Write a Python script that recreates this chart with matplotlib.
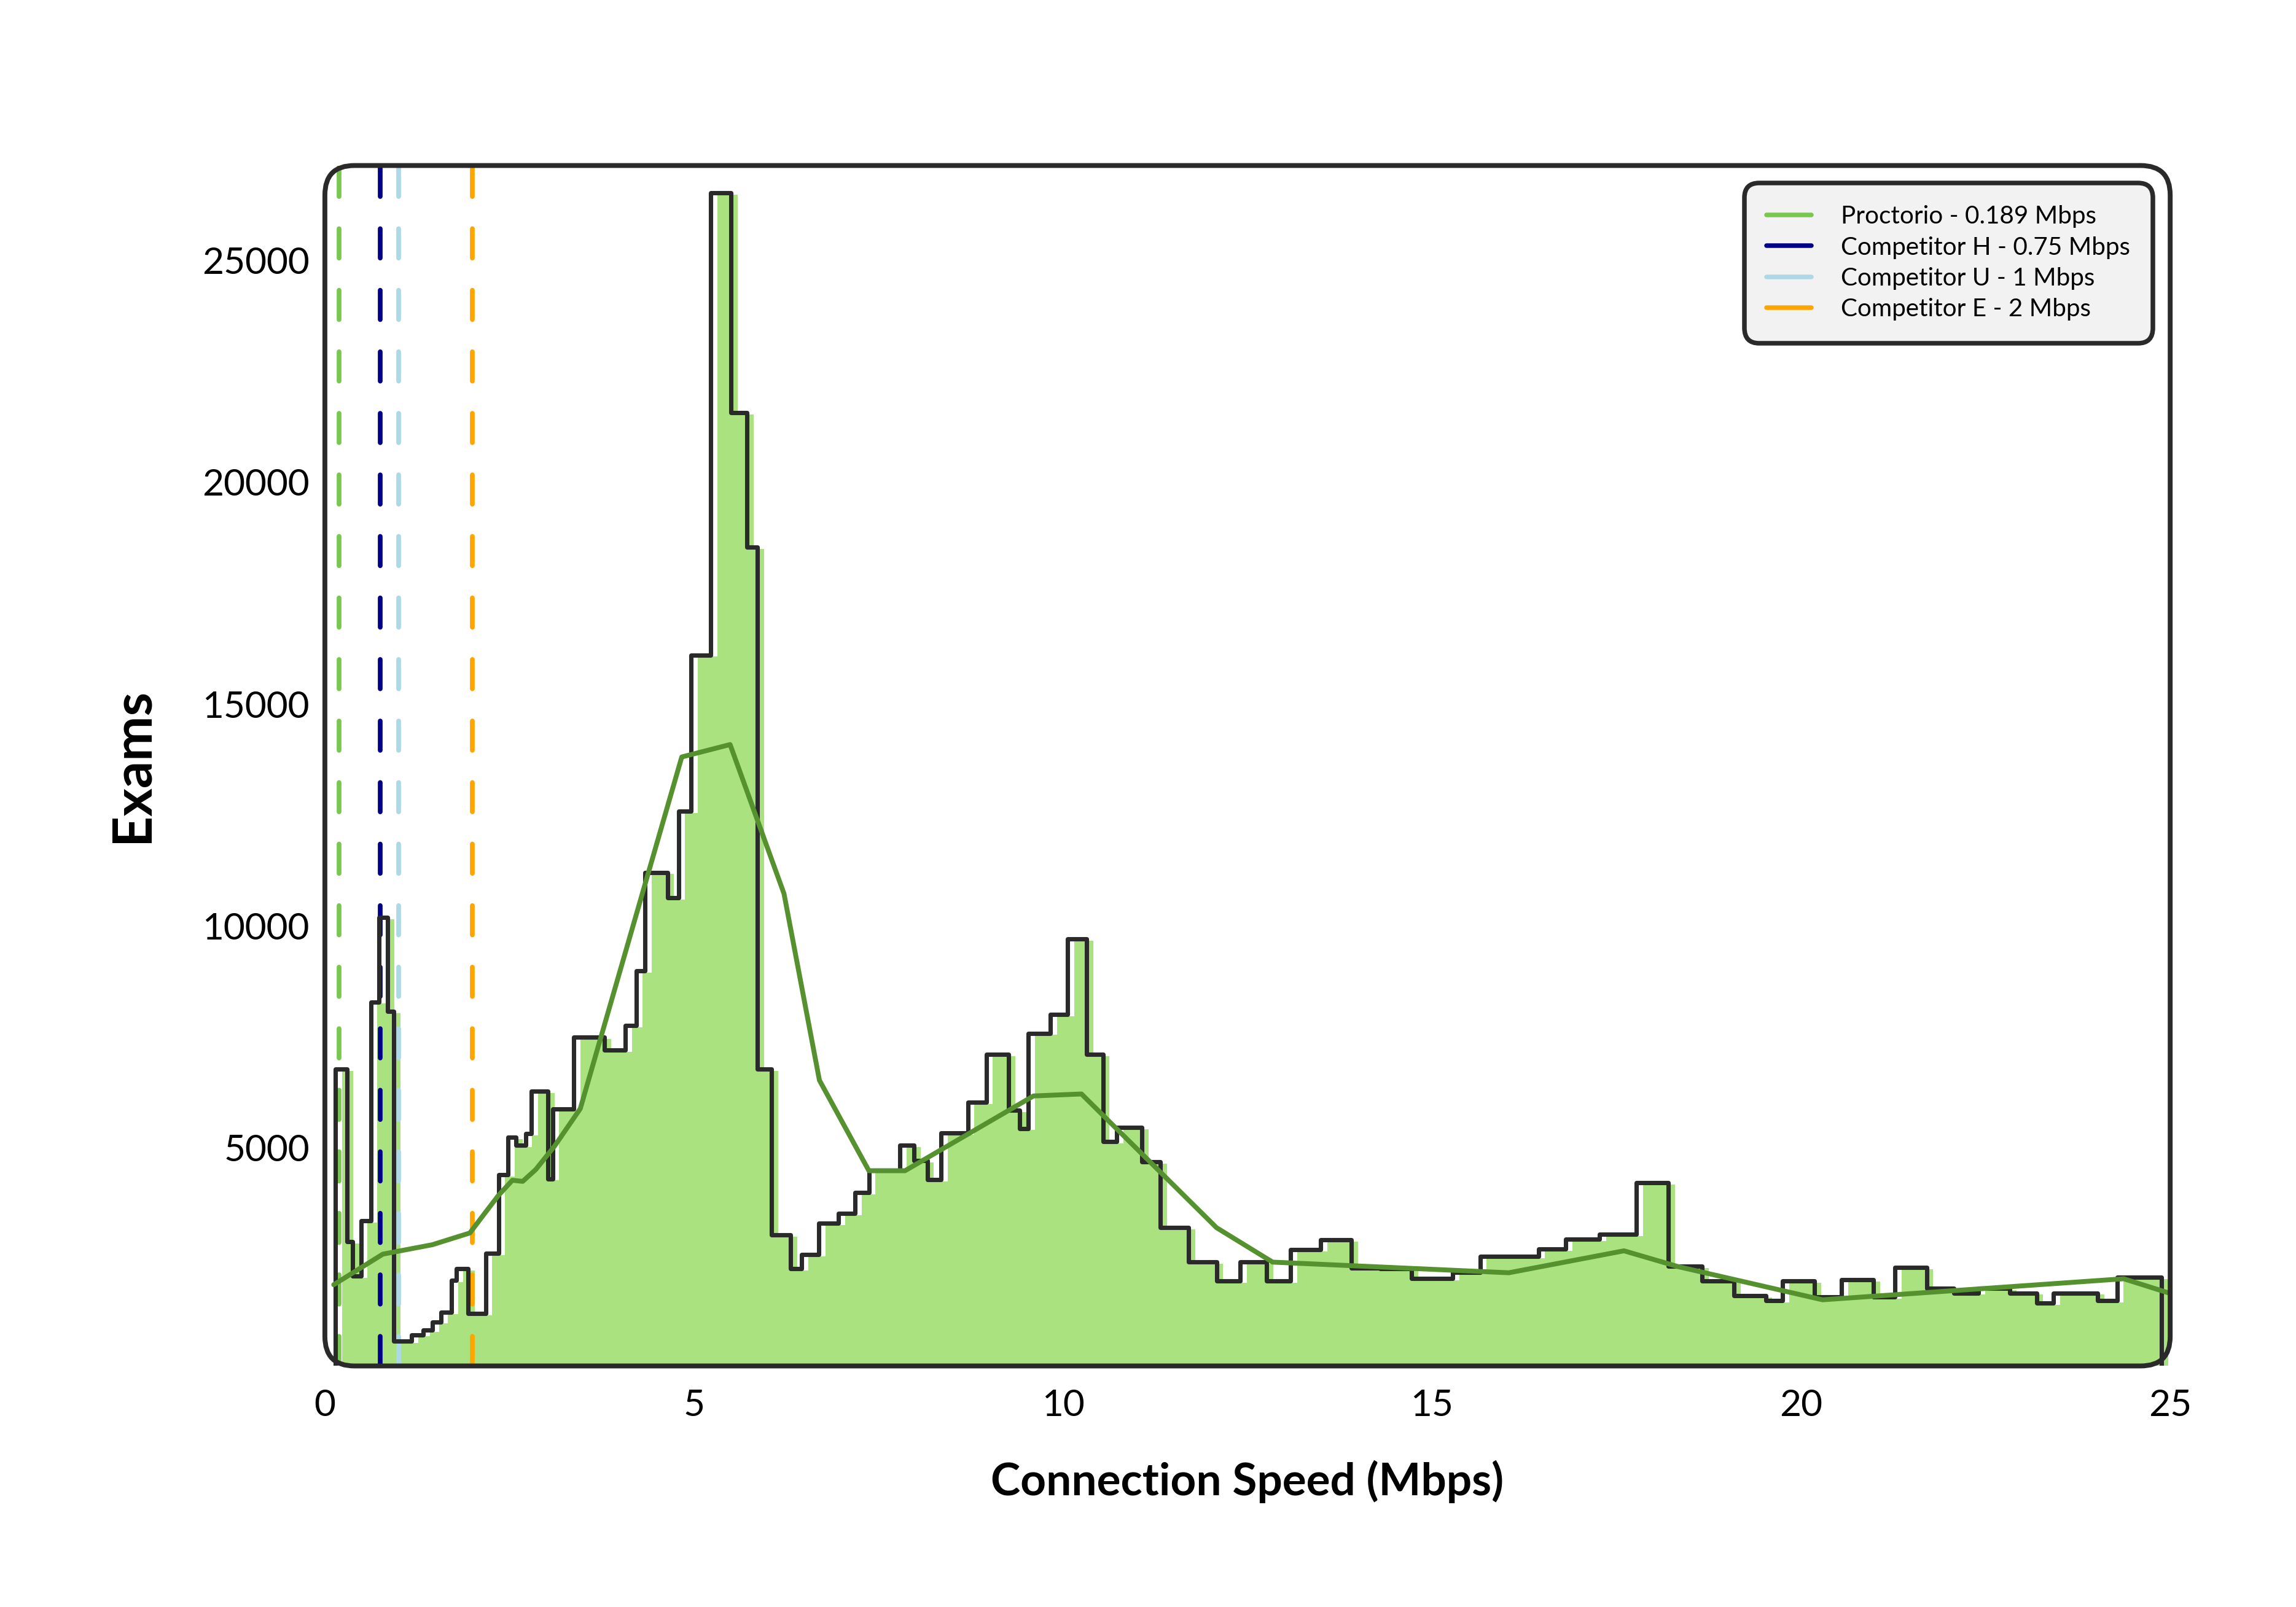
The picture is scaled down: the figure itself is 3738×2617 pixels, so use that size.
import numpy as np
import matplotlib
matplotlib.use("Agg")
import matplotlib.pyplot as plt
from matplotlib.patches import FancyBboxPatch

plt.rcParams['font.family'] = ['Lato', 'DejaVu Sans']

# histogram of exam connection speeds (bin edges in Mbps, counts per bin)
bin_edges = [0.234, 0.387, 0.467, 0.578, 0.712, 0.821, 0.938, 1.024, 1.263, 1.423,
             1.55, 1.662, 1.805, 1.869, 2.028, 2.267, 2.442, 2.57, 2.681, 2.809,
             2.888, 3.112, 3.175, 3.462, 3.876, 4.163, 4.306, 4.43, 4.73, 4.88,
             5.05, 5.32, 5.59, 5.81, 5.95, 6.14, 6.40, 6.55, 6.78, 7.05,
             7.27, 7.46, 7.88, 8.07, 8.25, 8.44, 8.80, 9.05, 9.35, 9.50,
             9.62, 9.92, 10.15, 10.41, 10.63, 10.82, 11.16, 11.41, 11.79, 12.17,
             12.49, 12.85, 13.17, 13.58, 14.0, 14.39, 14.81, 15.37, 15.74, 16.53,
             16.9, 17.36, 17.86, 18.29, 18.75, 19.18, 19.61, 19.84, 20.27, 20.64,
             21.07, 21.36, 21.79, 22.16, 22.49, 22.92, 23.28, 23.51, 24.11, 24.37,
             24.97]
exam_counts = [6740, 2840, 2075, 3320, 8250, 10150, 8030, 600, 750,
               850, 1040, 1250, 1970, 2234, 1227, 2578, 4350, 5200, 5014,
               5280, 6233, 4265, 5835, 7450, 7160, 7716, 8950, 11170, 10600,
               12550, 16070, 26480, 21525, 18500, 6740, 3000, 2234, 2551, 3266,
               3478, 3955, 4458, 5014, 4670, 4250, 5300, 5990, 7072, 5810,
               5400, 7545, 7968, 9663, 7072, 5100, 5426, 4649, 3166, 2389,
               1966, 2389, 1966, 2672, 2884, 2248, 2240, 2018, 2150, 2515,
               2680, 2901, 3012, 4170, 2295, 1963, 1632, 1521, 1963, 1600,
               1990, 1600, 2260, 1800, 1690, 1800, 1690, 1466, 1690, 1521,
               2040]

# smoothed trend line
trend_x = [0.12, 0.785, 1.455, 1.964, 2.156, 2.35, 2.54, 2.68, 2.856, 3.11,
           3.46, 4.835, 5.49, 6.22, 6.70, 7.37, 7.86, 9.60, 10.25, 12.08,
           12.84, 16.04, 17.6, 18.33, 20.29, 24.37, 25.0]
trend_y = [1916, 2605, 2817, 3082, 3504, 3926, 4270, 4245, 4510, 5036,
           5883, 13810, 14090, 10730, 6524, 4485, 4485, 6170, 6215, 3201,
           2425, 2185, 2680, 2325, 1576, 2050, 1720]

# minimum required speeds
vendor_labels = ['Proctorio - 0.189 Mbps', 'Competitor H - 0.75 Mbps',
                 'Competitor U - 1 Mbps', 'Competitor E - 2 Mbps']
vendor_speeds = [0.189, 0.75, 1.0, 2.0]
vendor_colors = ['#7ac74f', '#00008b', '#add8e6', '#ffa500']

y_ticks = [5000, 10000, 15000, 20000, 25000]
x_ticks = [0, 5, 10, 15, 20, 25]

W_PX, H_PX = 3738, 2617
fig = plt.figure(figsize=(W_PX / 300, H_PX / 300), dpi=300)
ax_l, ax_b, ax_w, ax_h = 0.1415, 0.150, 0.8037, 0.747
ax = fig.add_axes([ax_l, ax_b, ax_w, ax_h])

edges = np.array(bin_edges)
counts = np.array(exam_counts)

ax.stairs(counts, edges, fill=True, color='#a9e27f', lw=0, zorder=1)
# sketchy outline, drawn slightly offset from the bars
ax.stairs(counts + 40, edges - 0.09, color='#2a2a2a', lw=1.7, zorder=3,
          joinstyle='round', capstyle='round')
ax.plot(trend_x, trend_y, color='#55912f', lw=1.9, zorder=4,
        solid_joinstyle='round', solid_capstyle='round')

for spd, col, lab in zip(vendor_speeds, vendor_colors, vendor_labels):
    ax.axvline(spd, color=col, lw=1.85, dashes=(6.2, 6.8), dash_capstyle='round',
               zorder=2, label=lab)

ax.set_xlim(0, 25)
ax.set_ylim(85, 27140)
ax.set_xticks(x_ticks)
ax.set_yticks(y_ticks)
ax.tick_params(axis='both', length=0, labelsize=14.5, colors='black')
ax.tick_params(axis='x', pad=9)
ax.tick_params(axis='y', pad=6)
for s in ax.spines.values():
    s.set_visible(False)

# rounded frame
aw = ax_w * W_PX
ah = ax_h * H_PX
frame = FancyBboxPatch((0, 0), 1, 1, boxstyle="round,pad=0,rounding_size=%f" % (48 / aw),
                       mutation_aspect=aw / ah, transform=ax.transAxes, fill=False,
                       ec='#2a2a2a', lw=1.9, clip_on=False, zorder=6)
ax.add_patch(frame)

fig.text(ax_l + ax_w / 2, 0.078, 'Connection Speed (Mbps)', ha='center', va='center',
         fontsize=17.5, fontweight='bold')
fig.text(0.0574, 0.524, 'Exams', ha='center', va='center', rotation=90,
         fontsize=21, fontweight='bold')

leg = ax.legend(loc='upper right', fontsize=9.7, handlelength=1.8, handletextpad=1.2,
                labelspacing=0.33, borderpad=0.9, borderaxespad=0.7, fancybox=True,
                facecolor='#f2f2f2', edgecolor='#2a2a2a', framealpha=1)
for h in leg.get_lines():
    h.set_linestyle('-')
    h.set_linewidth(1.8)
    h.set_solid_capstyle('round')
leg.get_frame().set_linewidth(1.8)
leg.get_frame().set_boxstyle('round,pad=0,rounding_size=0.6')
leg.set_zorder(7)

fig.savefig('out.png', dpi=300)
